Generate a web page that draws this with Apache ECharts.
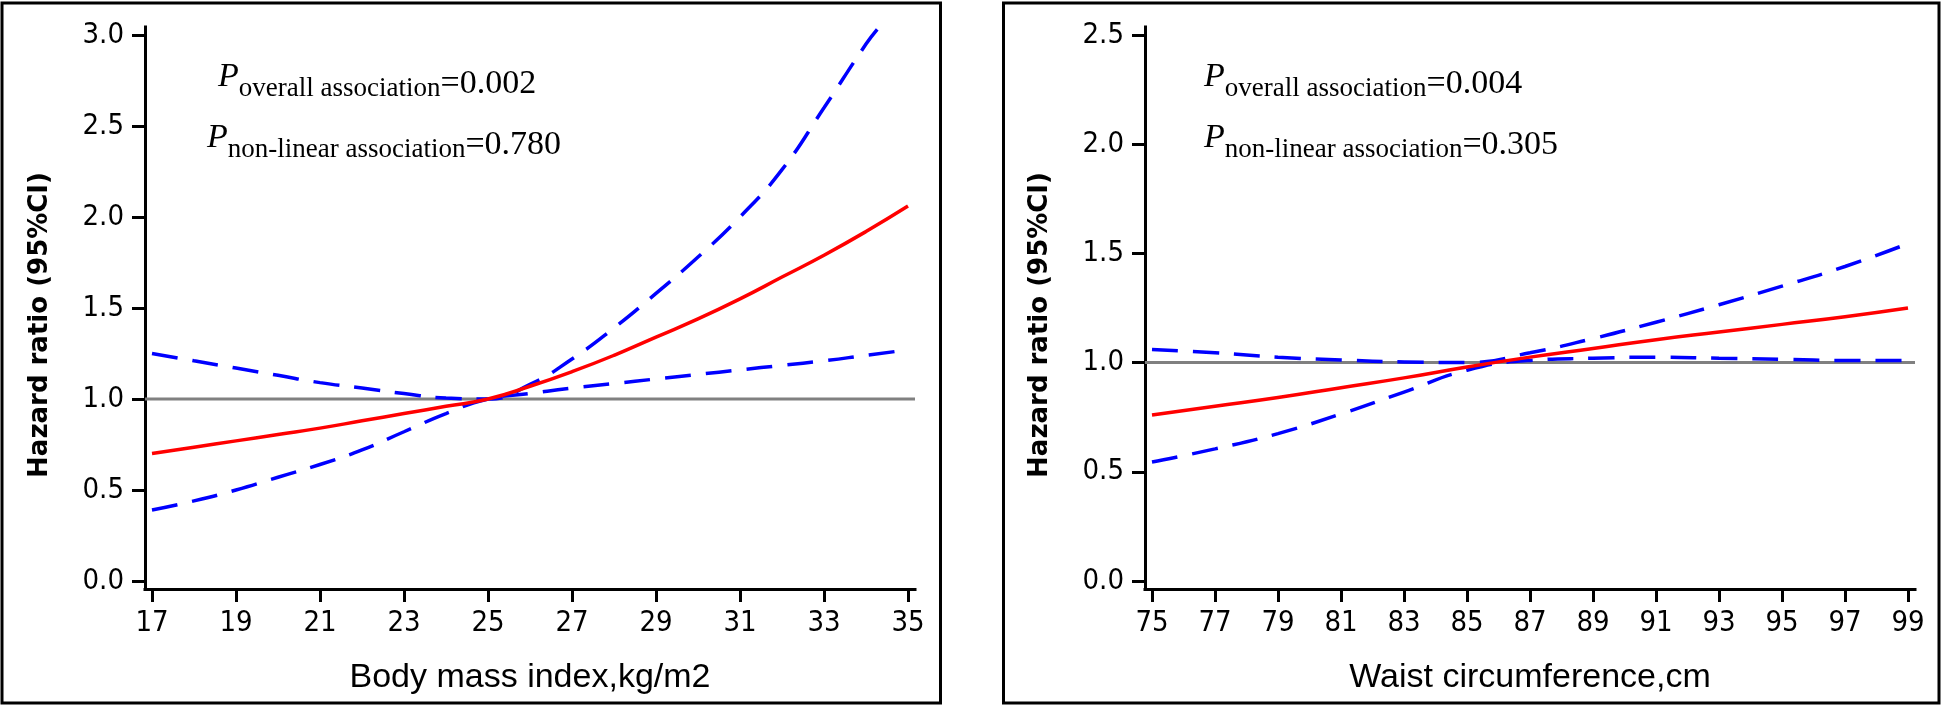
<!DOCTYPE html>
<html>
<head>
<meta charset="utf-8">
<script src="https://cdn.jsdelivr.net/npm/echarts@6/dist/echarts.min.js"></script>
<style>
html,body{margin:0;padding:0;background:#fff;}
#c{width:1943px;height:708px;}
</style>
</head>
<body>
<div id="c"></div>
<script>
// ---------- data ----------
const bmiTicks = [17, 19, 21, 23, 25, 27, 29, 31, 33, 35];
const bmiHrTicks = ['0.0', '0.5', '1.0', '1.5', '2.0', '2.5', '3.0'];
const waistTicks = [75, 77, 79, 81, 83, 85, 87, 89, 91, 93, 95, 97, 99];
const waistHrTicks = ['0.0', '0.5', '1.0', '1.5', '2.0', '2.5'];

const bmiX     = [17, 18, 19, 20, 21, 22, 23, 24, 25, 26, 27, 28, 29, 30, 31, 32, 33, 34, 35];
const bmiHR    = [0.70, 0.735, 0.77, 0.805, 0.84, 0.88, 0.92, 0.96, 1.00, 1.07, 1.15, 1.24, 1.34, 1.44, 1.55, 1.67, 1.79, 1.92, 2.06];
const bmiLower = [0.39, 0.44, 0.50, 0.57, 0.64, 0.72, 0.82, 0.92, 1.00, 1.03, 1.06, 1.085, 1.11, 1.135, 1.16, 1.185, 1.21, 1.24, 1.27];
const bmiUpperX = [17, 18, 19, 20, 21, 22, 23, 24, 25, 26, 27, 28, 29, 30, 31, 32, 33, 34, 34.3];
const bmiUpper  = [1.25, 1.21, 1.17, 1.13, 1.09, 1.06, 1.03, 1.005, 1.00, 1.08, 1.22, 1.39, 1.58, 1.78, 2.00, 2.26, 2.60, 2.95, 3.04];

const waistX     = [75, 77, 79, 81, 83, 85, 87, 89, 91, 93, 95, 97, 99];
const waistHR    = [0.76, 0.80, 0.84, 0.885, 0.93, 0.98, 1.025, 1.065, 1.105, 1.14, 1.175, 1.21, 1.25];
const waistLower = [0.545, 0.605, 0.675, 0.765, 0.865, 0.965, 1.01, 1.02, 1.025, 1.02, 1.015, 1.01, 1.01];
const waistUpper = [1.06, 1.045, 1.025, 1.012, 1.003, 1.00, 1.045, 1.11, 1.185, 1.265, 1.35, 1.44, 1.545];

const REF_HR = 1;

const panelTexts = [
  { sub1: 'overall association', val1: '=0.002', sub2: 'non-linear association', val2: '=0.780' },
  { sub1: 'overall association', val1: '=0.004', sub2: 'non-linear association', val2: '=0.305' }
];
const xTitles = ['Body mass index,kg/m2', 'Waist circumference,cm'];
const yTitle = 'Hazard ratio (95%CI)';

// ---------- layout ----------
const DATA_TOP = 35, DATA_H = 546, DATA_W = 756;
const PAD_X = 7, PAD_Y = 8;
const panelLeft = [152, 1152];
const annotPos = [
  { x1: 218, x2: 207 },
  { x1: 1204, x2: 1204 }
];
const base1 = 89, base2 = 150;

const RED = '#ff0000', BLUE = '#0000ff', GRAY = '#808080';
const SANS = 'DejaVu Sans', SERIF = 'Liberation Serif';
const TICKFONT = '"DejaVu Sans Condensed", "Liberation Sans", sans-serif';
const TITLEFONT = '"Liberation Sans", sans-serif';

const chart = echarts.init(document.getElementById('c'), null, { renderer: 'canvas' });

const xTickSets = [bmiTicks, waistTicks];
const yTickSets = [bmiHrTicks.map(Number), waistHrTicks.map(Number)];

const grids = [], xAxes = [], yAxes = [], series = [], graphics = [];

function pair(xs, ys) { return xs.map((x, i) => [x, ys[i]]); }

for (let p = 0; p < 2; p++) {
  const xt = xTickSets[p], yt = yTickSets[p];
  const xmin = xt[0], xmax = xt[xt.length - 1], xint = xt[1] - xt[0];
  const ymin = yt[0], ymax = yt[yt.length - 1], yint = yt[1] - yt[0];
  const padXu = PAD_X * (xmax - xmin) / DATA_W;
  const padYu = PAD_Y * (ymax - ymin) / DATA_H;
  const gl = panelLeft[p];

  grids.push({ left: gl, top: DATA_TOP, width: DATA_W, height: DATA_H, outerBoundsMode: 'none', containLabel: false });
  grids.push({ left: gl - PAD_X, top: DATA_TOP - PAD_Y, width: DATA_W + 2 * PAD_X, height: DATA_H + 2 * PAD_Y, outerBoundsMode: 'none', containLabel: false });
  const gd = p * 2, gp = p * 2 + 1;

  xAxes.push({
    type: 'value', gridIndex: gd, min: xmin, max: xmax, interval: xint, position: 'bottom', offset: PAD_Y,
    axisLine: { show: false, onZero: false },
    axisTick: { show: true, length: 13, lineStyle: { color: '#000', width: 3 } },
    axisLabel: { show: true, margin: 20, color: '#000', fontFamily: TICKFONT, fontSize: 29 },
    splitLine: { show: false },
    name: xTitles[p], nameLocation: 'middle', nameGap: 72, nameMoveOverlap: false,
    nameTextStyle: { color: '#000', fontFamily: TITLEFONT, fontSize: 34 }
  });
  xAxes.push({
    type: 'value', gridIndex: gp, min: xmin - padXu, max: xmax + padXu, position: 'bottom',
    axisLine: { show: true, onZero: false, lineStyle: { color: '#000', width: 3, cap: 'square' } },
    axisTick: { show: false }, axisLabel: { show: false }, splitLine: { show: false }
  });
  yAxes.push({
    type: 'value', gridIndex: gd, min: ymin, max: ymax, interval: yint, position: 'left', offset: PAD_X,
    axisLine: { show: false, onZero: false },
    axisTick: { show: true, length: 13, lineStyle: { color: '#000', width: 3 } },
    axisLabel: { show: true, margin: 21, color: '#000', fontFamily: TICKFONT, fontSize: 29, formatter: v => v.toFixed(1) },
    splitLine: { show: false },
    name: yTitle, nameLocation: 'middle', nameGap: 92, nameRotate: 90, nameMoveOverlap: false,
    nameTextStyle: { color: '#000', fontFamily: SANS, fontSize: 26, fontWeight: 'bold', padding: [0, 34, 0, 0] }
  });
  yAxes.push({
    type: 'value', gridIndex: gp, min: ymin - padYu, max: ymax + padYu, position: 'left',
    axisLine: { show: true, onZero: false, lineStyle: { color: '#000', width: 3, cap: 'square' } },
    axisTick: { show: false }, axisLabel: { show: false }, splitLine: { show: false }
  });

  // reference line at HR = 1 across the padded plot area
  series.push({
    type: 'line', xAxisIndex: gp, yAxisIndex: gp, showSymbol: false, silent: true, z: 1,
    data: [[xmin - padXu, REF_HR], [xmax + padXu, REF_HR]],
    lineStyle: { color: GRAY, width: 3 }
  });
}

const lineBase = { type: 'line', showSymbol: false, smooth: true, clip: false, silent: true, z: 3 };
// left panel
series.push(Object.assign({}, lineBase, { xAxisIndex: 0, yAxisIndex: 0, data: pair(bmiX, bmiLower), lineStyle: { color: BLUE, width: 3.5, type: [26, 15] } }));
series.push(Object.assign({}, lineBase, { xAxisIndex: 0, yAxisIndex: 0, data: pair(bmiUpperX, bmiUpper), lineStyle: { color: BLUE, width: 3.5, type: [26, 15] } }));
series.push(Object.assign({}, lineBase, { xAxisIndex: 0, yAxisIndex: 0, data: pair(bmiX, bmiHR), lineStyle: { color: RED, width: 3.5 } }));
// right panel
series.push(Object.assign({}, lineBase, { xAxisIndex: 2, yAxisIndex: 2, data: pair(waistX, waistLower), lineStyle: { color: BLUE, width: 3.5, type: [26, 15] } }));
series.push(Object.assign({}, lineBase, { xAxisIndex: 2, yAxisIndex: 2, data: pair(waistX, waistUpper), lineStyle: { color: BLUE, width: 3.5, type: [26, 15] } }));
series.push(Object.assign({}, lineBase, { xAxisIndex: 2, yAxisIndex: 2, data: pair(waistX, waistHR), lineStyle: { color: RED, width: 3.5 } }));

// ---------- panel borders ----------
graphics.push({ type: 'rect', shape: { x: 2, y: 3, width: 938.5, height: 700 }, style: { fill: 'none', stroke: '#000', lineWidth: 3 }, silent: true });
graphics.push({ type: 'rect', shape: { x: 1003.5, y: 3, width: 935.5, height: 700 }, style: { fill: 'none', stroke: '#000', lineWidth: 3 }, silent: true });

// ---------- P annotations ----------
const mctx = document.createElement('canvas').getContext('2d');
function tw(text, size, style) { mctx.font = (style || 'normal') + ' ' + size + 'px "' + SERIF + '"'; return mctx.measureText(text).width; }
const FS_MAIN = 34, FS_SUB = 27;
function txt(text, x, baseline, size, italic) {
  return {
    type: 'text', x: x, y: baseline - 0.3375 * size, silent: true, z: 10,
    style: {
      text: text, fill: '#000', fontFamily: SERIF, fontSize: size, fontStyle: italic ? 'italic' : 'normal',
      align: 'left', verticalAlign: 'middle', textAlign: 'left', textVerticalAlign: 'middle'
    }
  };
}
function annot(x, baseline, sub, val) {
  const pw = tw('P', FS_MAIN, 'italic');
  const sw = tw(sub, FS_SUB);
  graphics.push(txt('P', x, baseline, FS_MAIN, true));
  graphics.push(txt(sub, x + pw, baseline + 9, FS_SUB, false));
  graphics.push(txt(val, x + pw + sw, baseline + 7, FS_MAIN, false));
}
for (let p = 0; p < 2; p++) {
  annot(annotPos[p].x1, base1, panelTexts[p].sub1, panelTexts[p].val1);
  annot(annotPos[p].x2, base2, panelTexts[p].sub2, panelTexts[p].val2);
}

chart.setOption({
  animation: false,
  backgroundColor: '#fff',
  grid: grids,
  xAxis: xAxes,
  yAxis: yAxes,
  series: series,
  graphic: { elements: graphics }
});
</script>
</body>
</html>
